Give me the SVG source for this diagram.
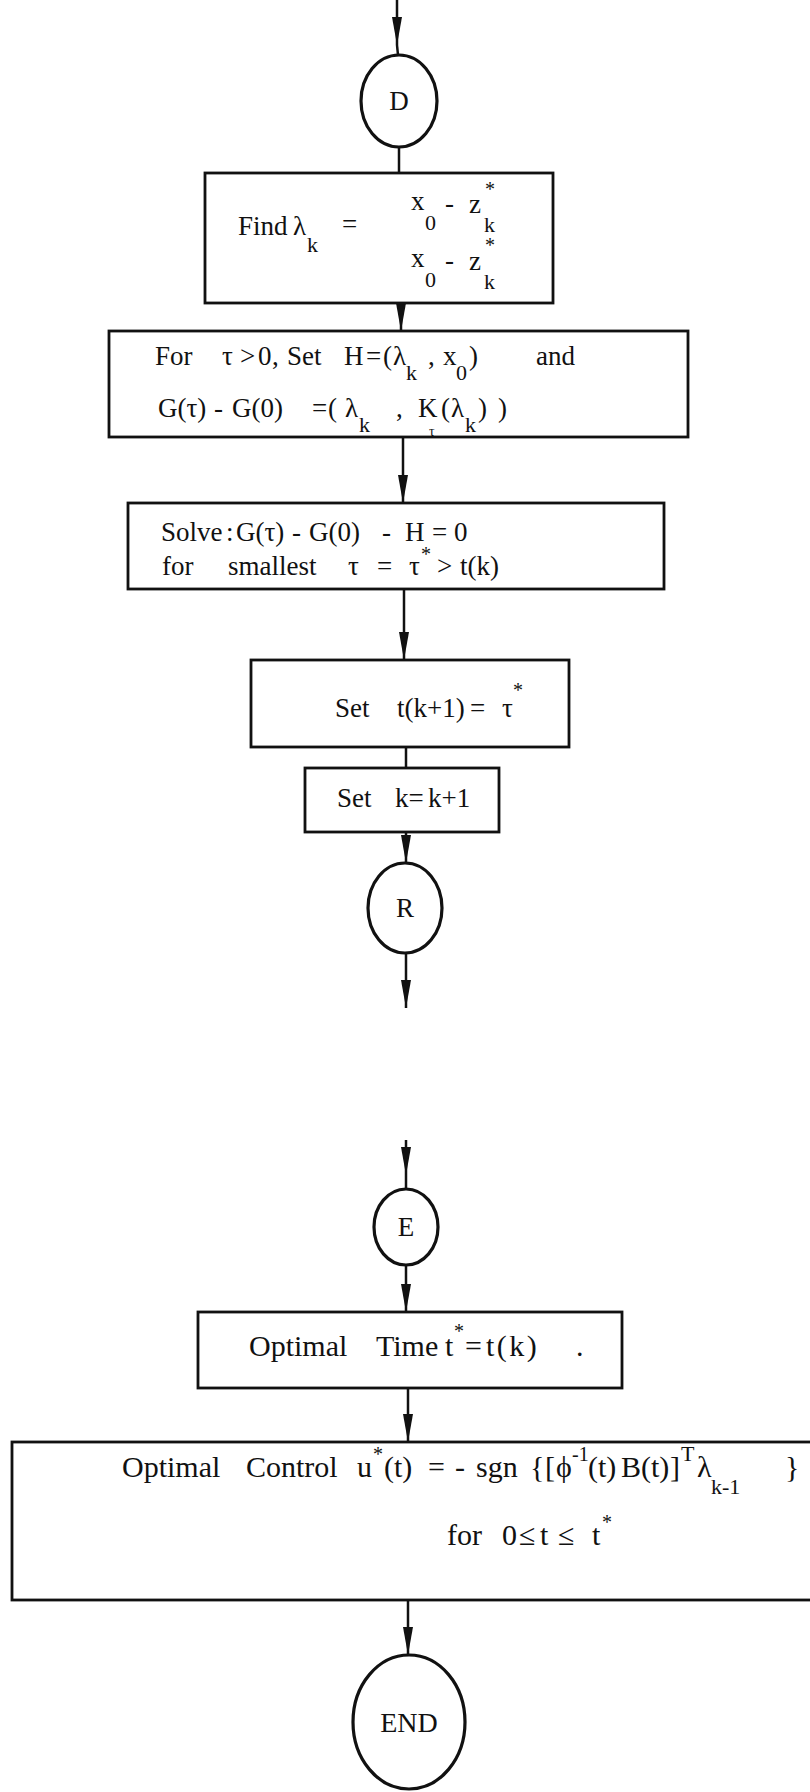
<svg xmlns="http://www.w3.org/2000/svg" width="810" height="1792" viewBox="0 0 810 1792">
<style>
.box{fill:#fff;stroke:#111;stroke-width:2.8}
.term{fill:#fff;stroke:#111;stroke-width:3.2}
.edge{stroke:#111;stroke-width:2.5;fill:none}
text{font-family:"Liberation Serif","Times New Roman",serif;fill:#111;font-size:27px}
.sub{font-size:22px}
.sup{font-size:20px}
.big{font-size:30px}
</style>
<defs>
<marker id="ah" viewBox="0 0 28 12" refX="28" refY="6" markerWidth="28" markerHeight="12" markerUnits="userSpaceOnUse" orient="auto">
<path d="M0,1 L28,6 L0,11 Z" fill="#111"/>
</marker>
</defs>
<g id="connectors">
<line class="edge" x1="397" y1="0" x2="397" y2="45" marker-end="url(#ah)"/>
<line class="edge" x1="397" y1="45" x2="398" y2="55"/>
<line class="edge" x1="399" y1="147" x2="399" y2="173"/>
<line class="edge" x1="401" y1="303" x2="401" y2="331" marker-end="url(#ah)"/>
<line class="edge" x1="403" y1="437" x2="403" y2="503" marker-end="url(#ah)"/>
<line class="edge" x1="404" y1="589" x2="404" y2="660" marker-end="url(#ah)"/>
<line class="edge" x1="406" y1="747" x2="406" y2="768"/>
<line class="edge" x1="406" y1="832" x2="406" y2="863" marker-end="url(#ah)"/>
<line class="edge" x1="406" y1="953" x2="406" y2="1008" marker-end="url(#ah)"/>
<line class="edge" x1="406" y1="1140" x2="406" y2="1175" marker-end="url(#ah)"/>
<line class="edge" x1="406" y1="1175" x2="406" y2="1189"/>
<line class="edge" x1="406" y1="1265" x2="406" y2="1312" marker-end="url(#ah)"/>
<line class="edge" x1="408" y1="1388" x2="408" y2="1442" marker-end="url(#ah)"/>
<line class="edge" x1="408" y1="1600" x2="408" y2="1655" marker-end="url(#ah)"/>
</g>
<g id="node-D">
<ellipse class="term" cx="399" cy="101" rx="38" ry="46"/>
<text x="399" y="110" text-anchor="middle">D</text>
</g>
<g id="node-find">
<rect class="box" x="205" y="173" width="348" height="130"/>
<text><tspan x="238" y="235">Find</tspan><tspan x="293" y="235">λ</tspan><tspan class="sub" x="307" y="252">k</tspan><tspan x="342" y="233">=</tspan></text>
<text><tspan x="411" y="210">x</tspan><tspan class="sub" x="425" y="230">0</tspan><tspan x="445" y="212">-</tspan><tspan x="469" y="213">z</tspan><tspan class="sup" x="485" y="196">*</tspan><tspan class="sub" x="484" y="232">k</tspan></text>
<text><tspan x="411" y="267">x</tspan><tspan class="sub" x="425" y="287">0</tspan><tspan x="445" y="269">-</tspan><tspan x="469" y="270">z</tspan><tspan class="sup" x="485" y="252">*</tspan><tspan class="sub" x="484" y="289">k</tspan></text>
</g>
<g id="node-setH">
<rect class="box" x="109" y="331" width="579" height="106"/>
<text><tspan x="155" y="365">For</tspan><tspan x="222" y="365">τ</tspan><tspan x="240" y="365">&gt;</tspan><tspan x="258" y="365">0</tspan><tspan x="272" y="365">,</tspan><tspan x="287" y="365">Set</tspan><tspan x="344" y="365">H</tspan><tspan x="366" y="365">=</tspan><tspan x="383" y="365">(</tspan><tspan x="393" y="365">λ</tspan><tspan class="sub" x="406" y="380">k</tspan><tspan x="428" y="365">,</tspan><tspan x="443" y="365">x</tspan><tspan class="sub" x="456" y="380">0</tspan><tspan x="469" y="365">)</tspan><tspan x="536" y="365">and</tspan></text>
<text><tspan x="158" y="417">G(τ)</tspan><tspan x="214" y="417">-</tspan><tspan x="232" y="417">G(0)</tspan><tspan x="312" y="417">=</tspan><tspan x="328" y="417">(</tspan><tspan x="345" y="417">λ</tspan><tspan class="sub" x="359" y="432">k</tspan><tspan x="396" y="417">,</tspan><tspan x="418" y="417">K</tspan><tspan x="441" y="417">(</tspan><tspan x="451" y="417">λ</tspan><tspan class="sub" x="465" y="432">k</tspan><tspan x="478" y="417">)</tspan><tspan x="498" y="417">)</tspan></text>
<text style="font-size:14px" x="429" y="436">τ</text>
</g>
<g id="node-solve">
<rect class="box" x="128" y="503" width="536" height="86"/>
<text><tspan x="161" y="541">Solve</tspan><tspan x="226" y="541">:</tspan><tspan x="236" y="541">G(τ)</tspan><tspan x="292" y="541">-</tspan><tspan x="309" y="541">G(0)</tspan><tspan x="382" y="541">-</tspan><tspan x="405" y="541">H</tspan><tspan x="432" y="541">=</tspan><tspan x="454" y="541">0</tspan></text>
<text><tspan x="162" y="575">for</tspan><tspan x="228" y="575">smallest</tspan><tspan x="348" y="575">τ</tspan><tspan x="377" y="575">=</tspan><tspan x="409" y="575">τ</tspan><tspan class="sup" x="421" y="561">*</tspan><tspan x="437" y="575">&gt;</tspan><tspan x="460" y="575">t(k)</tspan></text>
</g>
<g id="node-settk">
<rect class="box" x="251" y="660" width="318" height="87"/>
<text><tspan x="335" y="717">Set</tspan><tspan x="397" y="717">t(k+1)</tspan><tspan x="470" y="717">=</tspan><tspan x="502" y="717">τ</tspan><tspan class="sup" x="513" y="697">*</tspan></text>
</g>
<g id="node-setk">
<rect class="box" x="305" y="768" width="194" height="64"/>
<text><tspan x="337" y="807">Set</tspan><tspan x="395" y="807">k=</tspan><tspan x="428" y="807">k+1</tspan></text>
</g>
<g id="node-R">
<ellipse class="term" cx="405" cy="908" rx="37" ry="45"/>
<text x="405" y="917" text-anchor="middle">R</text>
</g>
<g id="node-E">
<ellipse class="term" cx="406" cy="1227" rx="32" ry="38"/>
<text x="406" y="1236" text-anchor="middle">E</text>
</g>
<g id="node-opttime">
<rect class="box" x="198" y="1312" width="424" height="76"/>
<text class="big"><tspan x="249" y="1356">Optimal</tspan><tspan x="376" y="1356">Time</tspan><tspan x="445" y="1356">t</tspan><tspan class="sup" x="454" y="1338">*</tspan><tspan x="465" y="1356">=</tspan><tspan x="486" y="1356" letter-spacing="2.5">t(k)</tspan><tspan x="576" y="1356">.</tspan></text>
</g>
<g id="node-optcontrol">
<rect class="box" x="12" y="1442" width="812" height="158"/>
<text class="big"><tspan x="122" y="1477">Optimal</tspan><tspan x="246" y="1477">Control</tspan><tspan x="357" y="1477">u</tspan><tspan class="sup" x="373" y="1461">*</tspan><tspan x="384" y="1477">(t)</tspan><tspan x="428" y="1477">=</tspan><tspan x="455" y="1477">-</tspan><tspan x="476" y="1477">sgn</tspan><tspan x="530" y="1477">{</tspan><tspan x="545" y="1477">[</tspan><tspan x="556" y="1477">ϕ</tspan><tspan class="sup" x="572" y="1461">-1</tspan><tspan x="588" y="1477">(t)</tspan><tspan x="621" y="1477">B(t)</tspan><tspan x="670" y="1477">]</tspan><tspan class="sub" x="681" y="1461">T</tspan><tspan x="697" y="1477">λ</tspan><tspan class="sub" x="711" y="1494">k-1</tspan><tspan x="785" y="1477">}</tspan></text>
<text class="big"><tspan x="447" y="1545">for</tspan><tspan x="502" y="1545">0</tspan><tspan x="519" y="1545">≤</tspan><tspan x="540" y="1545">t</tspan><tspan x="558" y="1545">≤</tspan><tspan x="592" y="1545">t</tspan><tspan class="sup" x="602" y="1529">*</tspan></text>
</g>
<g id="node-END">
<ellipse class="term" cx="409" cy="1722" rx="56" ry="67"/>
<text x="409" y="1732" text-anchor="middle" style="font-size:28px">END</text>
</g>
</svg>
